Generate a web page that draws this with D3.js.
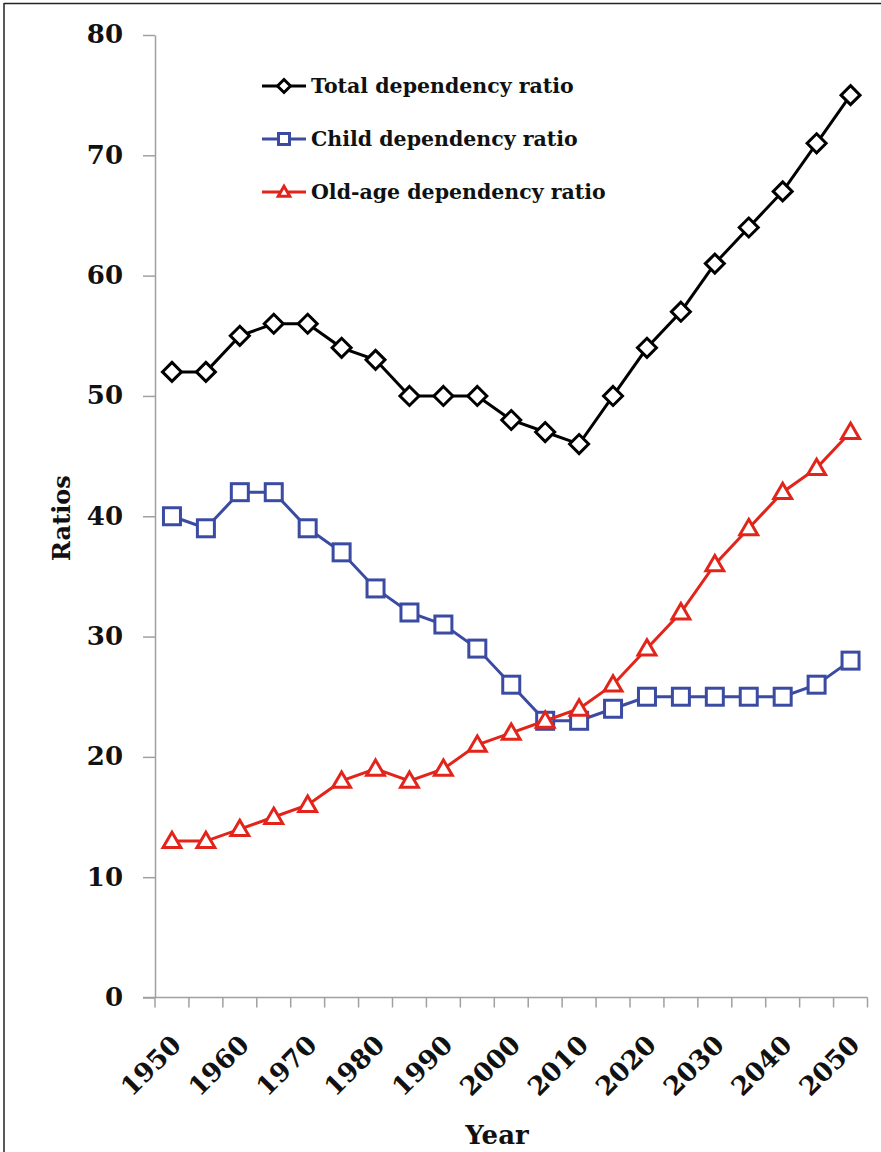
<!DOCTYPE html>
<style>
  body { margin: 0; background: #fff; }
  text { font-family: 'DejaVu Serif', serif; font-weight: bold; }
</style>
<svg id='chart'></svg>
<script src="https://d3js.org/d3.v7.min.js"></script>
<script>
var years = [1950, 1955, 1960, 1965, 1970, 1975, 1980, 1985, 1990, 1995, 2000,
             2005, 2010, 2015, 2020, 2025, 2030, 2035, 2040, 2045, 2050]
var total = [52, 52, 55, 56, 56, 54, 53, 50, 50, 50, 48, 47, 46, 50, 54, 57, 61, 64, 67, 71, 75]
var child = [40, 39, 42, 42, 39, 37, 34, 32, 31, 29, 26, 23, 23, 24, 25, 25, 25, 25, 25, 26, 28]
var oldAge = [13, 13, 14, 15, 16, 18, 19, 18, 19, 21, 22, 23, 24, 26, 29, 32, 36, 39, 42, 44, 47]
var yTicks = [0, 10, 20, 30, 40, 50, 60, 70, 80]
var xLabels = [1950, 1960, 1970, 1980, 1990, 2000, 2010, 2020, 2030, 2040, 2050]

var series = [
  {name: 'Total dependency ratio', values: total, color: '#000000', shape: 'diamond'},
  {name: 'Child dependency ratio', values: child, color: '#3b4ba2', shape: 'square'},
  {name: 'Old-age dependency ratio', values: oldAge, color: '#e3241b', shape: 'triangle'}
]

var width = 881, height = 1152,
    margin = {top: 35, left: 155, right: 13.5, bottom: 154.5}

var svg = d3.select('#chart')
  .attr('width', width)
  .attr('height', height)

// frame (top and left edges visible)
svg.append('line').attr('x1', 4).attr('x2', width).attr('y1', 3.5).attr('y2', 3.5)
  .attr('stroke', '#222').attr('stroke-width', 1.5)
svg.append('line').attr('x1', 4).attr('x2', 4).attr('y1', 3).attr('y2', height)
  .attr('stroke', '#222').attr('stroke-width', 1.5)

var x = d3.scaleBand()
  .domain(years)
  .range([margin.left, width - margin.right])

var y = d3.scaleLinear()
  .domain([0, 80])
  .range([height - margin.bottom, margin.top])

// y axis
var yAxis = svg.append('g')
  .attr('transform', `translate(${margin.left}, 0)`)
  .call(d3.axisLeft(y).tickValues(yTicks).tickSize(12).tickPadding(20).tickSizeOuter(0))
yAxis.select('.domain').attr('stroke', '#a0a0a0').attr('stroke-width', 1.5)
yAxis.selectAll('.tick line').attr('stroke', '#a0a0a0').attr('stroke-width', 1.5)
yAxis.selectAll('.tick text')
  .attr('font-size', 26)
  .attr('fill', '#111')
  .attr('dy', '0.3em')

// x axis: ticks at category boundaries
var xAxisG = svg.append('g')
  .attr('transform', `translate(0, ${y(0)})`)
xAxisG.append('line')
  .attr('x1', margin.left - 12).attr('x2', width - margin.right)
  .attr('stroke', '#a0a0a0').attr('stroke-width', 1.5)
var bounds = years.map(d => x(d)).concat([x(years[years.length - 1]) + x.bandwidth()])
xAxisG.selectAll('.xtick')
  .data(bounds)
  .enter()
  .append('line')
  .attr('x1', d => d).attr('x2', d => d)
  .attr('y1', 0).attr('y2', 10)
  .attr('stroke', '#a0a0a0').attr('stroke-width', 1.5)

xAxisG.selectAll('.xlabel')
  .data(xLabels)
  .enter()
  .append('text')
  .attr('transform', d => `translate(${x(d) + x.bandwidth() / 2 - 2}, 36) rotate(-45)`)
  .attr('text-anchor', 'end')
  .attr('dy', '0.7em')
  .attr('font-size', 26)
  .attr('fill', '#111')
  .text(d => d)

// axis titles
svg.append('text')
  .attr('transform', `translate(70, 518) rotate(-90)`)
  .attr('text-anchor', 'middle')
  .attr('font-size', 24)
  .attr('fill', '#111')
  .text('Ratios')

svg.append('text')
  .attr('x', 497).attr('y', 1144)
  .attr('text-anchor', 'middle')
  .attr('font-size', 26)
  .attr('fill', '#111')
  .text('Year')

function marker(sel, shape, s) {
  if (shape === 'diamond') {
    sel.append('path').attr('d', `M0,${-s}L${s},0L0,${s}L${-s},0Z`)
  } else if (shape === 'square') {
    sel.append('rect').attr('x', -s).attr('y', -s).attr('width', 2 * s).attr('height', 2 * s)
  } else {
    sel.append('path').attr('d', `M0,${-s * 1.05}L${s * 1.05},${s * 0.75}L${-s * 1.05},${s * 0.75}Z`)
  }
}

var line = d3.line()
  .x((d, i) => x(years[i]) + x.bandwidth() / 2)
  .y(d => y(d))

series.forEach(function(s) {
  svg.append('path')
    .datum(s.values)
    .attr('d', line)
    .attr('fill', 'none')
    .attr('stroke', s.color)
    .attr('stroke-width', 3)

  var pts = svg.selectAll('.pt-' + s.shape)
    .data(s.values)
    .enter()
    .append('g')
    .attr('transform', (d, i) => `translate(${x(years[i]) + x.bandwidth() / 2}, ${y(d)})`)
    .attr('fill', '#fff')
    .attr('stroke', s.color)
    .attr('stroke-width', 3)
  pts.each(function() { marker(d3.select(this), s.shape, s.shape === 'diamond' ? 9.5 : 8.5) })
})

// legend
var legend = svg.append('g')
var rows = legend.selectAll('g')
  .data(series)
  .enter()
  .append('g')
  .attr('transform', (d, i) => `translate(262, ${86 + i * 53})`)
rows.append('line')
  .attr('x1', 0).attr('x2', 44)
  .attr('stroke', d => d.color).attr('stroke-width', 3)
rows.each(function(d) {
  var g = d3.select(this).append('g')
    .attr('transform', 'translate(22, 0)')
    .attr('fill', '#fff').attr('stroke', d.color).attr('stroke-width', 3)
  marker(g, d.shape, d.shape === 'diamond' ? 6.5 : 5.5)
})
rows.append('text')
  .attr('x', 49)
  .attr('dy', '0.35em')
  .attr('font-size', 20.5)
  .attr('fill', '#111')
  .text(d => d.name)
</script>
